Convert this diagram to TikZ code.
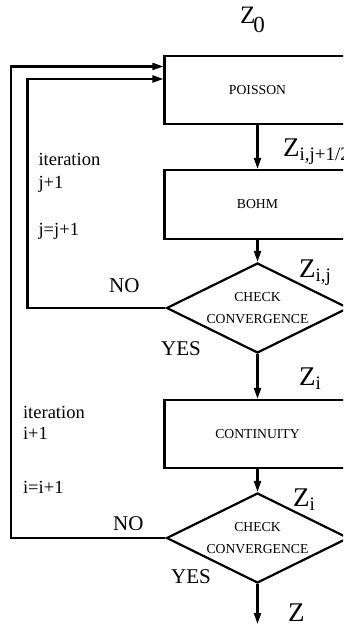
\documentclass[tikz,border=0pt]{standalone}
\usepackage{fontspec}
\setmainfont{Liberation Serif}
\usetikzlibrary{shapes.geometric,arrows.meta}
% big Z with a lowered subscript
\newcommand{\zvar}[1]{{\fontsize{27}{27}\selectfont Z}\raisebox{-4pt}{\fontsize{19}{19}\selectfont #1}}

\begin{document}
\begin{tikzpicture}[x=1pt,y=-1pt,
  line width=2.2pt,
  block/.style={draw, rectangle, minimum width=186pt, minimum height=68pt,
    inner sep=0pt, font=\fontsize{13.7}{16}\selectfont},
  decision/.style={draw, diamond, aspect=2, minimum width=182pt, minimum height=90pt,
    inner sep=0pt, align=center, font=\fontsize{13.7}{22}\selectfont},
  flow/.style={-{Triangle[length=11pt,width=7pt]}},
  note/.style={anchor=base west, inner sep=0pt, font=\fontsize{18.5}{20}\selectfont},
  answer/.style={anchor=base west, inner sep=0pt, font=\fontsize{21}{21}\selectfont},
  zlabel/.style={anchor=base west, inner sep=0pt}]

\clip (0,0) rectangle (343,631);

% process blocks and decisions
\node[block] (poisson) at (257.5,90) {POISSON};
\node[block, minimum height=69pt] (bohm) at (257.5,204.5) {BOHM};
\node[decision] (check1) at (257.5,308) {CHECK\\CONVERGENCE};
\node[block] (cont) at (257.5,434) {CONTINUITY};
\node[decision] (check2) at (257.5,538) {CHECK\\CONVERGENCE};
\coordinate (out) at (257.5,624);

% main flow
\draw[flow] (poisson) -- (bohm);
\draw[flow] (bohm) -- (check1);
\draw[flow] (check1) -- (cont);
\draw[flow] (cont) -- (check2);
\draw[flow] (check2) -- (out);

% feedback loops
\coordinate (innercorner) at (27.5,79);
\coordinate (outercorner) at (11,66.5);
\draw[flow] (check1.west) -| (innercorner) -- (innercorner -| poisson.west);
\draw[flow] (check2.west) -| (outercorner) -- (outercorner -| poisson.west);

% variable labels
\node[zlabel] (z0) at (239,24) {{\fontsize{25}{25}\selectfont Z}\kern-2pt\raisebox{-9pt}{\fontsize{23}{23}\selectfont 0}};
\node[zlabel] (zhalf) at (282,157) {\zvar{i,j+1/2}};
\node[zlabel] (zij) at (298,277) {\zvar{i,j}};
\node[zlabel] (zi1) at (298,385) {\zvar{i}};
\node[zlabel] (zi2) at (292,506) {\zvar{i}};
\node[zlabel] (zout) at (287,621) {\zvar{}};

% iteration notes
\node[note] (itj) at (37.5,166) {iteration};
\node[note] (jp1) at (37.5,188) {j+1};
\node[note] (jinc) at (37.5,235) {j=j+1};
\node[note] (iti) at (22,418) {iteration};
\node[note] (ip1) at (22,439) {i+1};
\node[note] (iinc) at (22,493) {i=i+1};

% decision outcomes
\node[answer] (no1) at (108,292) {NO};
\node[answer] (yes1) at (160,355) {YES};
\node[answer] (no2) at (112,530) {NO};
\node[answer] (yes2) at (170,583) {YES};
\end{tikzpicture}
\end{document}
